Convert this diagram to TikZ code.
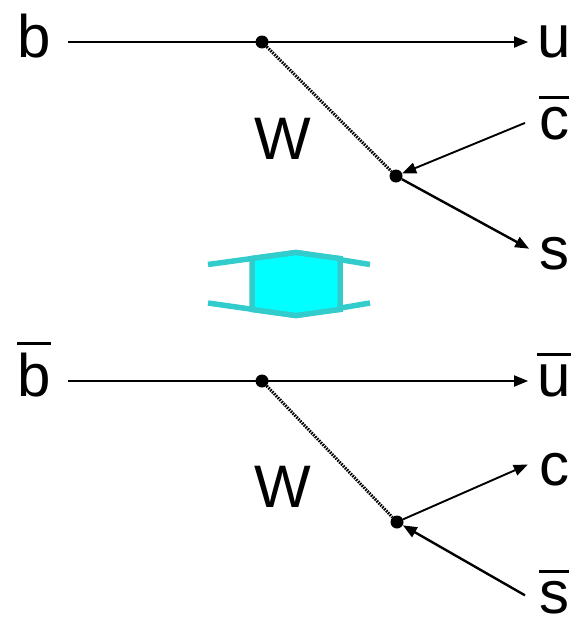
\documentclass[tikz,border=0pt]{standalone}
\usepackage{fontspec}
\setmainfont{Liberation Sans}
\usepackage{tikz}
\usetikzlibrary{arrows.meta}

\definecolor{swapedge}{RGB}{51,204,204}
\definecolor{swapfill}{RGB}{0,255,255}
\newcommand{\anti}[1]{\vbox{\hrule height 3pt\kern 8pt\hbox{#1}}}

\begin{document}
\begin{tikzpicture}[x=1pt, y=-1pt,
            quark/.style   ={anchor=base, inner sep=0pt, text height=30pt, text depth=0pt,
                             font=\fontsize{60}{60}\selectfont},
            vertex/.style  ={circle, fill=black, inner sep=0pt, minimum size=13pt},
            fermion/.style ={line width=1.9pt, -{Triangle[length=14pt, width=11pt]}},
            boson/.style   ={line width=3pt, dash pattern=on 1.6pt off 1.1pt, black},
            swap/.style    ={line width=5.5pt, draw=swapedge}
        ]
            \useasboundingbox (0,0) rectangle (576,621);

            % --- b -> u W, W -> cbar s ---
            \node[quark] (b)    at (34,57)   {b};
            \node[quark] (u)    at (554,57)  {u};
            \node[quark] (cbar) at (554,139) {\anti{c}};
            \node[quark] (s)    at (554,269) {s};
            \node[quark] (w1)   at (283,159) {W};
            \node[vertex] (v1)  at (262,42)  {};
            \node[vertex] (v2)  at (396,176) {};

            \draw[fermion, shorten <=17pt, shorten >=9pt] (b.east) -- (u.west);
            \draw[boson] (v1) -- (v2);
            \draw[fermion, shorten <=15pt] (cbar.156) -- (v2);
            \draw[fermion, line width=2.4pt, shorten >=11pt] (v2) -- (s.west);

            % --- bbar -> ubar W, W -> c sbar ---
            \node[quark] (bbar) at (34,396)  {\anti{b}};
            \node[quark] (ubar) at (554,396) {\anti{u}};
            \node[quark] (c)    at (554,485) {c};
            \node[quark] (sbar) at (554,613) {\anti{s}};
            \node[quark] (w2)   at (283,507) {W};
            \node[vertex] (v3)  at (262,381) {};
            \node[vertex] (v4)  at (397,522) {};

            \draw[fermion, shorten <=17pt, shorten >=9pt] (bbar.east) -- (ubar.west);
            \draw[boson] (v3) -- (v4);
            \draw[fermion, shorten >=12pt] (v4) -- (c.146);
            \draw[fermion, line width=2.4pt, shorten <=16pt] (sbar.199) -- (v4);

            % --- CP swap symbol ---
            \draw[swap] (208,264.5) -- (296,252.5) -- (370,264.5);
            \draw[swap] (208,303) -- (296,315.5) -- (370,303);
            \filldraw[swap, fill=swapfill] (252,258.5) -- (296,252.5) -- (340,258.5)
                -- (340,309.5) -- (296,315.5) -- (252,309.5) -- cycle;
        \end{tikzpicture}
\end{document}
